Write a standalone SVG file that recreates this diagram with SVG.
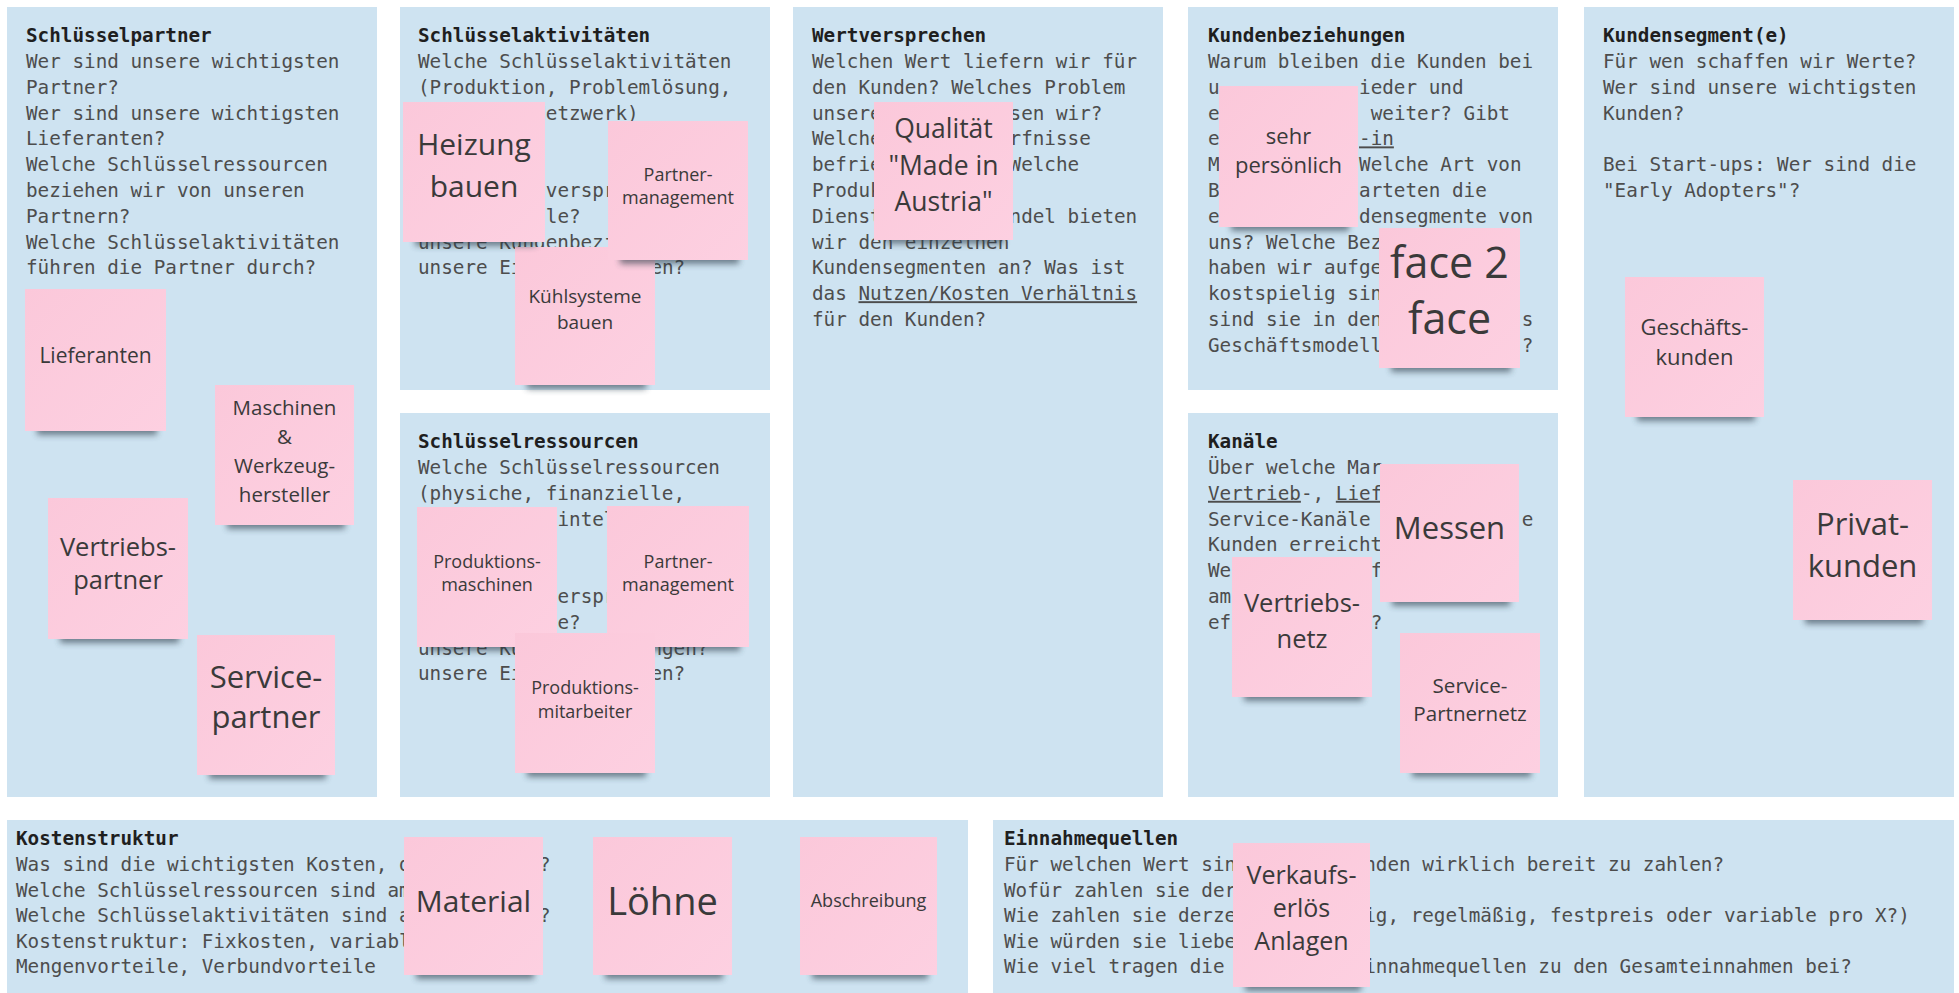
<svg xmlns="http://www.w3.org/2000/svg" width="1959" height="993" viewBox="0 0 1959 993">
<defs>
<linearGradient id="pk" x1="0" y1="0" x2="1" y2="1">
<stop offset="0" stop-color="#fbc8da"/>
<stop offset="1" stop-color="#fdd0e1"/>
</linearGradient>
<filter id="blur" x="-20%" y="-150%" width="140%" height="400%">
<feGaussianBlur stdDeviation="3"/>
</filter>
<style>
.panel{fill:#cee3f1}
.t{font-family:"DejaVu Sans Mono","Liberation Mono",monospace;font-size:19.3px;fill:#4d4d4d}
.h{font-weight:bold;fill:#1f1f1f}
.u{text-decoration:underline}
.pk{fill:url(#pk)}
.sh{fill:#2c3b46;opacity:.6;filter:url(#blur)}
.st{font-family:"Open Sans","Noto Sans",sans-serif;fill:#3a3a3a;text-anchor:middle}
</style>
</defs>
<rect width="1959" height="993" fill="#ffffff"/>

<g id="panels">
<g id="p-schluesselpartner">
<rect class="panel" x="7" y="7" width="370" height="790"/>
<text class="t"><tspan class="h" x="26" y="42">Schlüsselpartner</tspan>
<tspan x="26" y="68">Wer sind unsere wichtigsten</tspan>
<tspan x="26" y="93.8">Partner?</tspan>
<tspan x="26" y="119.6">Wer sind unsere wichtigsten</tspan>
<tspan x="26" y="145.4">Lieferanten?</tspan>
<tspan x="26" y="171.2">Welche Schlüsselressourcen</tspan>
<tspan x="26" y="197">beziehen wir von unseren</tspan>
<tspan x="26" y="222.8">Partnern?</tspan>
<tspan x="26" y="248.6">Welche Schlüsselaktivitäten</tspan>
<tspan x="26" y="274.4">führen die Partner durch?</tspan></text>
</g>
<g id="p-schluesselaktivitaeten">
<rect class="panel" x="400" y="7" width="370" height="383"/>
<text class="t"><tspan class="h" x="418" y="42">Schlüsselaktivitäten</tspan>
<tspan x="418" y="68">Welche Schlüsselaktivitäten</tspan>
<tspan x="418" y="93.8">(Produktion, Problemlösung,</tspan>
<tspan x="534.2" y="119.6">Netzwerk)</tspan>
<tspan x="545.82" y="197">verspr</tspan>
<tspan x="545.82" y="222.8">le?</tspan>
<tspan x="418" y="248.6">unsere Kundenbezi</tspan>
<tspan x="418" y="274.4">unsere Ei</tspan><tspan x="650.4" y="274.4">en?</tspan></text>
</g>
<g id="p-schluesselressourcen">
<rect class="panel" x="400" y="413" width="370" height="384"/>
<text class="t"><tspan class="h" x="418" y="448">Schlüsselressourcen</tspan>
<tspan x="418" y="474">Welche Schlüsselressourcen</tspan>
<tspan x="418" y="499.8">(physiche, finanzielle,</tspan>
<tspan x="557.44" y="525.6">intel</tspan>
<tspan x="557.44" y="603">erspr</tspan>
<tspan x="557.44" y="628.8">e?</tspan>
<tspan x="418" y="654.6">unsere Ku</tspan><tspan x="650.4" y="654.6">ngen?</tspan>
<tspan x="418" y="680.4">unsere Ei</tspan><tspan x="650.4" y="680.4">en?</tspan></text>
</g>
<g id="p-wertversprechen">
<rect class="panel" x="793" y="7" width="370" height="790"/>
<text class="t"><tspan class="h" x="812" y="42">Wertversprechen</tspan>
<tspan x="812" y="68">Welchen Wert liefern wir für</tspan>
<tspan x="812" y="93.8">den Kunden? Welches Problem</tspan>
<tspan x="812" y="119.6">unsere</tspan><tspan x="1009.54" y="119.6">sen wir?</tspan>
<tspan x="812" y="145.4">Welche</tspan><tspan x="1009.54" y="145.4">rfnisse</tspan>
<tspan x="812" y="171.2">befrie</tspan><tspan x="1009.54" y="171.2">Welche</tspan>
<tspan x="812" y="197">Produk</tspan>
<tspan x="812" y="222.8">Dienst</tspan><tspan x="1009.54" y="222.8">ndel bieten</tspan>
<tspan x="812" y="248.6">wir den einzelnen</tspan>
<tspan x="812" y="274.4">Kundensegmenten an? Was ist</tspan>
<tspan x="812" y="300.2">das </tspan><tspan class="u" x="858.48" y="300.2">Nutzen/Kosten Verhältnis</tspan>
<tspan x="812" y="326">für den Kunden?</tspan></text>
</g>
<g id="p-kundenbeziehungen">
<rect class="panel" x="1188" y="7" width="370" height="383"/>
<text class="t"><tspan class="h" x="1208" y="42">Kundenbeziehungen</tspan>
<tspan x="1208" y="68">Warum bleiben die Kunden bei</tspan>
<tspan x="1208" y="93.8">u</tspan><tspan x="1359.06" y="93.8">ieder und</tspan>
<tspan x="1208" y="119.6">e</tspan><tspan x="1370.68" y="119.6">weiter? Gibt</tspan>
<tspan x="1208" y="145.4">e</tspan><tspan class="u" x="1359.06" y="145.4">-in</tspan>
<tspan x="1208" y="171.2">M</tspan><tspan x="1359.06" y="171.2">Welche Art von</tspan>
<tspan x="1208" y="197">B</tspan><tspan x="1359.06" y="197">arteten die</tspan>
<tspan x="1208" y="222.8">e</tspan><tspan x="1359.06" y="222.8">densegmente von</tspan>
<tspan x="1208" y="248.6">uns? Welche Bez</tspan>
<tspan x="1208" y="274.4">haben wir aufge</tspan>
<tspan x="1208" y="300.2">kostspielig sin</tspan>
<tspan x="1208" y="326">sind sie in den</tspan><tspan x="1521.74" y="326">s</tspan>
<tspan x="1208" y="351.8">Geschäftsmodell</tspan><tspan x="1521.74" y="351.8">?</tspan></text>
</g>
<g id="p-kanaele">
<rect class="panel" x="1188" y="413" width="370" height="384"/>
<text class="t"><tspan class="h" x="1208" y="448">Kanäle</tspan>
<tspan x="1208" y="474">Über welche Mar</tspan>
<tspan class="u" x="1208" y="499.8">Vertrieb</tspan><tspan x="1300.96" y="499.8">-,</tspan><tspan class="u" x="1335.82" y="499.8">Lief</tspan>
<tspan x="1208" y="525.6">Service-Kanäle</tspan><tspan x="1521.74" y="525.6">e</tspan>
<tspan x="1208" y="551.4">Kunden erreicht</tspan>
<tspan x="1208" y="577.2">We</tspan><tspan x="1370.68" y="577.2">f</tspan>
<tspan x="1208" y="603">am</tspan>
<tspan x="1208" y="628.8">ef</tspan><tspan x="1370.68" y="628.8">?</tspan></text>
</g>
<g id="p-kundensegmente">
<rect class="panel" x="1584" y="7" width="370" height="790"/>
<text class="t"><tspan class="h" x="1603" y="42">Kundensegment(e)</tspan>
<tspan x="1603" y="68">Für wen schaffen wir Werte?</tspan>
<tspan x="1603" y="93.8">Wer sind unsere wichtigsten</tspan>
<tspan x="1603" y="119.6">Kunden?</tspan>
<tspan x="1603" y="171.2">Bei Start-ups: Wer sind die</tspan>
<tspan x="1603" y="197">"Early Adopters"?</tspan></text>
</g>
<g id="p-kostenstruktur">
<rect class="panel" x="7" y="820" width="961" height="173"/>
<text class="t"><tspan class="h" x="16" y="845">Kostenstruktur</tspan>
<tspan x="16" y="871">Was sind die wichtigsten Kosten, d</tspan><tspan x="538.9" y="871">?</tspan>
<tspan x="16" y="896.6">Welche Schlüsselressourcen sind am</tspan>
<tspan x="16" y="922.2">Welche Schlüsselaktivitäten sind a</tspan><tspan x="538.9" y="922.2">?</tspan>
<tspan x="16" y="947.8">Kostenstruktur: Fixkosten, variabl</tspan>
<tspan x="16" y="973.4">Mengenvorteile, Verbundvorteile</tspan></text>
</g>
<g id="p-einnahmequellen">
<rect class="panel" x="993" y="820" width="961" height="173"/>
<text class="t"><tspan class="h" x="1004" y="845">Einnahmequellen</tspan>
<tspan x="1004" y="871">Für welchen Wert sin</tspan><tspan x="1364.22" y="871">nden wirklich bereit zu zahlen?</tspan>
<tspan x="1004" y="896.6">Wofür zahlen sie der</tspan>
<tspan x="1004" y="922.2">Wie zahlen sie derze</tspan><tspan x="1364.22" y="922.2">ig, regelmäßig, festpreis oder variable pro X?)</tspan>
<tspan x="1004" y="947.8">Wie würden sie liebe</tspan>
<tspan x="1004" y="973.4">Wie viel tragen die</tspan><tspan x="1364.22" y="973.4">innahmequellen zu den Gesamteinnahmen bei?</tspan></text>
</g>
</g>

<g id="connectors"></g>

<g id="notes">
<g id="n-lieferanten">
<rect class="sh" x="37" y="423" width="120" height="12"/>
<rect class="pk" x="25" y="289" width="141" height="142"/>
<text class="st" x="95.5" y="363" font-size="21">Lieferanten</text>
</g>
<g id="n-maschinen">
<rect class="sh" x="227" y="517" width="118" height="12"/>
<rect class="pk" x="215" y="385" width="139" height="140"/>
<text class="st" font-size="20.5"><tspan x="284.5" y="415">Maschinen</tspan><tspan x="284.5" y="444">&amp;</tspan><tspan x="284.5" y="473">Werkzeug-</tspan><tspan x="284.5" y="502">hersteller</tspan></text>
</g>
<g id="n-vertriebspartner">
<rect class="sh" x="60" y="631" width="119" height="12"/>
<rect class="pk" x="48" y="498" width="140" height="141"/>
<text class="st" font-size="25.5"><tspan x="118" y="556">Vertriebs-</tspan><tspan x="118" y="589">partner</tspan></text>
</g>
<g id="n-servicepartner">
<rect class="sh" x="209" y="767" width="117" height="12"/>
<rect class="pk" x="197" y="635" width="138" height="140"/>
<text class="st" font-size="31"><tspan x="266" y="688">Service-</tspan><tspan x="266" y="728">partner</tspan></text>
</g>

<g id="n-kuehlsysteme">
<rect class="sh" x="527" y="377" width="119" height="12"/>
<rect class="pk" x="515" y="247" width="140" height="138"/>
<text class="st" font-size="19"><tspan x="585" y="303">Kühlsysteme</tspan><tspan x="585" y="329">bauen</tspan></text>
</g>
<g id="n-heizung">
<rect class="sh" x="415" y="234" width="121" height="12"/>
<rect class="pk" x="403" y="102" width="142" height="140"/>
<text class="st" font-size="30"><tspan x="474" y="155">Heizung</tspan><tspan x="474" y="197">bauen</tspan></text>
</g>
<g id="n-partner-a">
<rect class="sh" x="620" y="252" width="119" height="12"/>
<rect class="pk" x="608" y="121" width="140" height="139"/>
<text class="st" font-size="18"><tspan x="678" y="181">Partner-</tspan><tspan x="678" y="204">management</tspan></text>
</g>

<g id="n-produktionsmaschinen">
<rect class="sh" x="429" y="639" width="119" height="12"/>
<rect class="pk" x="417" y="507" width="140" height="140"/>
<text class="st" font-size="18"><tspan x="487" y="568">Produktions-</tspan><tspan x="487" y="591">maschinen</tspan></text>
</g>
<g id="n-partner-r">
<rect class="sh" x="619" y="639" width="121" height="12"/>
<rect class="pk" x="607" y="506" width="142" height="141"/>
<text class="st" font-size="18"><tspan x="678" y="568">Partner-</tspan><tspan x="678" y="591">management</tspan></text>
</g>
<g id="n-produktionsmitarbeiter">
<rect class="sh" x="527" y="765" width="119" height="12"/>
<rect class="pk" x="515" y="633" width="140" height="140"/>
<text class="st" font-size="18"><tspan x="585" y="694">Produktions-</tspan><tspan x="585" y="718">mitarbeiter</tspan></text>
</g>

<g id="n-qualitaet">
<rect class="sh" x="886" y="232" width="118" height="12"/>
<rect class="pk" x="874" y="102" width="139" height="138"/>
<text class="st" font-size="26.5"><tspan x="943.5" y="138">Qualität</tspan><tspan x="943.5" y="175">"Made in</tspan><tspan x="943.5" y="211">Austria"</tspan></text>
</g>

<g id="n-sehrpersoenlich">
<rect class="sh" x="1231" y="219" width="118" height="12"/>
<rect class="pk" x="1219" y="86" width="139" height="141"/>
<text class="st" font-size="22"><tspan x="1288.5" y="144">sehr</tspan><tspan x="1288.5" y="173">persönlich</tspan></text>
</g>
<g id="n-face2face">
<rect class="sh" x="1391" y="360" width="120" height="12"/>
<rect class="pk" x="1379" y="228" width="141" height="140"/>
<text class="st" font-size="43"><tspan x="1449.5" y="278">face 2</tspan><tspan x="1449.5" y="334">face</tspan></text>
</g>

<g id="n-messen">
<rect class="sh" x="1392" y="594" width="118" height="12"/>
<rect class="pk" x="1380" y="464" width="139" height="138"/>
<text class="st" x="1449.5" y="539" font-size="31">Messen</text>
</g>
<g id="n-vertriebsnetz">
<rect class="sh" x="1244" y="689" width="119" height="12"/>
<rect class="pk" x="1232" y="557" width="140" height="140"/>
<text class="st" font-size="25.5"><tspan x="1302" y="612">Vertriebs-</tspan><tspan x="1302" y="648">netz</tspan></text>
</g>
<g id="n-servicepartnernetz">
<rect class="sh" x="1412" y="765" width="119" height="12"/>
<rect class="pk" x="1400" y="633" width="140" height="140"/>
<text class="st" font-size="20.6"><tspan x="1470" y="693">Service-</tspan><tspan x="1470" y="721">Partnernetz</tspan></text>
</g>

<g id="n-geschaeftskunden">
<rect class="sh" x="1637" y="409" width="118" height="12"/>
<rect class="pk" x="1625" y="277" width="139" height="140"/>
<text class="st" font-size="22"><tspan x="1694.5" y="335">Geschäfts-</tspan><tspan x="1694.5" y="365">kunden</tspan></text>
</g>
<g id="n-privatkunden">
<rect class="sh" x="1805" y="612" width="118" height="12"/>
<rect class="pk" x="1793" y="480" width="139" height="140"/>
<text class="st" font-size="31"><tspan x="1862.5" y="535">Privat-</tspan><tspan x="1862.5" y="577">kunden</tspan></text>
</g>

<g id="n-material">
<rect class="sh" x="416" y="967" width="118" height="12"/>
<rect class="pk" x="404" y="837" width="139" height="138"/>
<text class="st" x="473.5" y="912" font-size="30">Material</text>
</g>
<g id="n-loehne">
<rect class="sh" x="605" y="967" width="118" height="12"/>
<rect class="pk" x="593" y="837" width="139" height="138"/>
<text class="st" x="662.5" y="915" font-size="38">Löhne</text>
</g>
<g id="n-abschreibung">
<rect class="sh" x="812" y="967" width="116" height="12"/>
<rect class="pk" x="800" y="837" width="137" height="138"/>
<text class="st" x="868.5" y="907" font-size="18">Abschreibung</text>
</g>
<g id="n-verkaufserloes">
<rect class="sh" x="1245" y="979" width="116" height="12"/>
<rect class="pk" x="1233" y="843" width="137" height="144"/>
<text class="st" font-size="25"><tspan x="1301.5" y="884">Verkaufs-</tspan><tspan x="1301.5" y="917">erlös</tspan><tspan x="1301.5" y="950">Anlagen</tspan></text>
</g>
</g>
</svg>
